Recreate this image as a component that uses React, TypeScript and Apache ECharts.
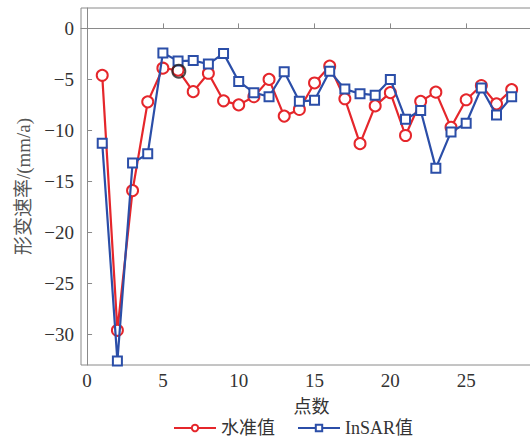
import React, { useEffect, useRef } from "react";
import * as echarts from "echarts";

const points = [1, 2, 3, 4, 5, 6, 7, 8, 9, 10, 11, 12, 13, 14, 15, 16, 17, 18, 19, 20, 21, 22, 23, 24, 25, 26, 27, 28];
const levelValues = [-4.6, -29.6, -15.9, -7.2, -3.9, -4.1, -6.2, -4.4, -7.1, -7.5, -6.7, -5.0, -8.6, -7.95, -5.35, -3.7, -6.9, -11.3, -7.6, -6.3, -10.5, -7.15, -6.25, -9.7, -7.0, -5.6, -7.4, -6.0];
const insarValues = [-11.25, -32.6, -13.2, -12.3, -2.4, -3.2, -3.15, -3.5, -2.45, -5.2, -6.3, -6.7, -4.25, -7.15, -7.05, -4.2, -5.95, -6.4, -6.55, -5.0, -8.9, -8.05, -13.7, -10.15, -9.3, -5.85, -8.5, -6.7];
const highlightPoint = [6.05, -4.2];
const seriesNames = ["水准值", "InSAR值"];
const xTicks = [0, 5, 10, 15, 20, 25];
const yTicks = [-30, -25, -20, -15, -10, -5, 0];

const RED = "#e5262b";
const BLUE = "#2b4ea8";
const AXIS = "#8a8a8a";
const TEXT = "#333";
const FONT = "'Liberation Serif', 'Noto Sans CJK SC', serif";

const fmt = (v: number) => (v < 0 ? "\u2212" + Math.abs(v) : String(v));

export default function App() {
  const ref = useRef<HTMLDivElement>(null);
  useEffect(() => {
    if (!ref.current) return;
    const chart = echarts.init(ref.current, undefined, { renderer: "svg" });
    chart.setOption({
      animation: false,
      backgroundColor: "#fff",
      grid: {
        left: 81,
        top: 8,
        right: -12,
        bottom: 78,
        outerBoundsMode: "none",
        containLabel: false,
        show: true,
        borderColor: AXIS,
        borderWidth: 1,
      },
      legend: {
        data: seriesNames,
        left: 173,
        top: 417,
        padding: 0,
        itemWidth: 42,
        itemHeight: 8,
        itemGap: 22,
        textStyle: { fontFamily: FONT, fontSize: 18, color: TEXT, lineHeight: 22 },
      },
      xAxis: {
        type: "value",
        min: -0.4,
        max: 30,
        name: "点数",
        nameLocation: "middle",
        nameGap: 33,
        nameTextStyle: { fontFamily: FONT, fontSize: 18, color: TEXT },
        axisLine: { show: true, lineStyle: { color: AXIS, width: 1 } },
        axisTick: { show: true, inside: true, length: 5, lineStyle: { color: AXIS }, customValues: xTicks },
        axisLabel: { formatter: fmt, fontFamily: FONT, fontSize: 19, color: TEXT, margin: 6, customValues: xTicks },
        splitLine: { show: false },
      },
      yAxis: {
        type: "value",
        min: -33,
        max: 2,
        name: "形变速率/(mm/a)",
        nameLocation: "middle",
        nameGap: 45,
        nameTextStyle: { fontFamily: FONT, fontSize: 19, color: "#555" },
        axisLine: { show: true, lineStyle: { color: AXIS, width: 1 } },
        axisTick: { show: true, inside: true, length: 5, lineStyle: { color: AXIS }, customValues: yTicks },
        axisLabel: { formatter: fmt, fontFamily: FONT, fontSize: 19, color: TEXT, margin: 7, customValues: yTicks },
        splitLine: { show: false },
      },
      series: [
        {
          name: seriesNames[0],
          type: "line",
          data: points.map((p, i) => [p, levelValues[i]]),
          symbol: "emptyCircle",
          symbolSize: 11,
          color: RED,
          lineStyle: { color: RED, width: 2.2 },
          itemStyle: { color: RED, borderColor: RED, borderWidth: 2 },
          z: 2,
        },
        {
          name: seriesNames[1],
          type: "line",
          data: points.map((p, i) => [p, insarValues[i]]),
          symbol: "emptyRect",
          symbolSize: 9,
          color: BLUE,
          lineStyle: { color: BLUE, width: 2.2 },
          itemStyle: { color: BLUE, borderColor: BLUE, borderWidth: 2 },
          z: 3,
        },
        {
          name: "highlight",
          type: "scatter",
          data: [highlightPoint],
          symbol: "circle",
          symbolSize: 13,
          itemStyle: { color: "rgba(0,0,0,0)", borderColor: "#222", borderWidth: 2 },
          z: 4,
        },
      ],
    });
    return () => chart.dispose();
  }, []);
  return <div ref={ref} style={{ width: 530, height: 443, position: "absolute", left: 0, top: 0 }} />;
}
